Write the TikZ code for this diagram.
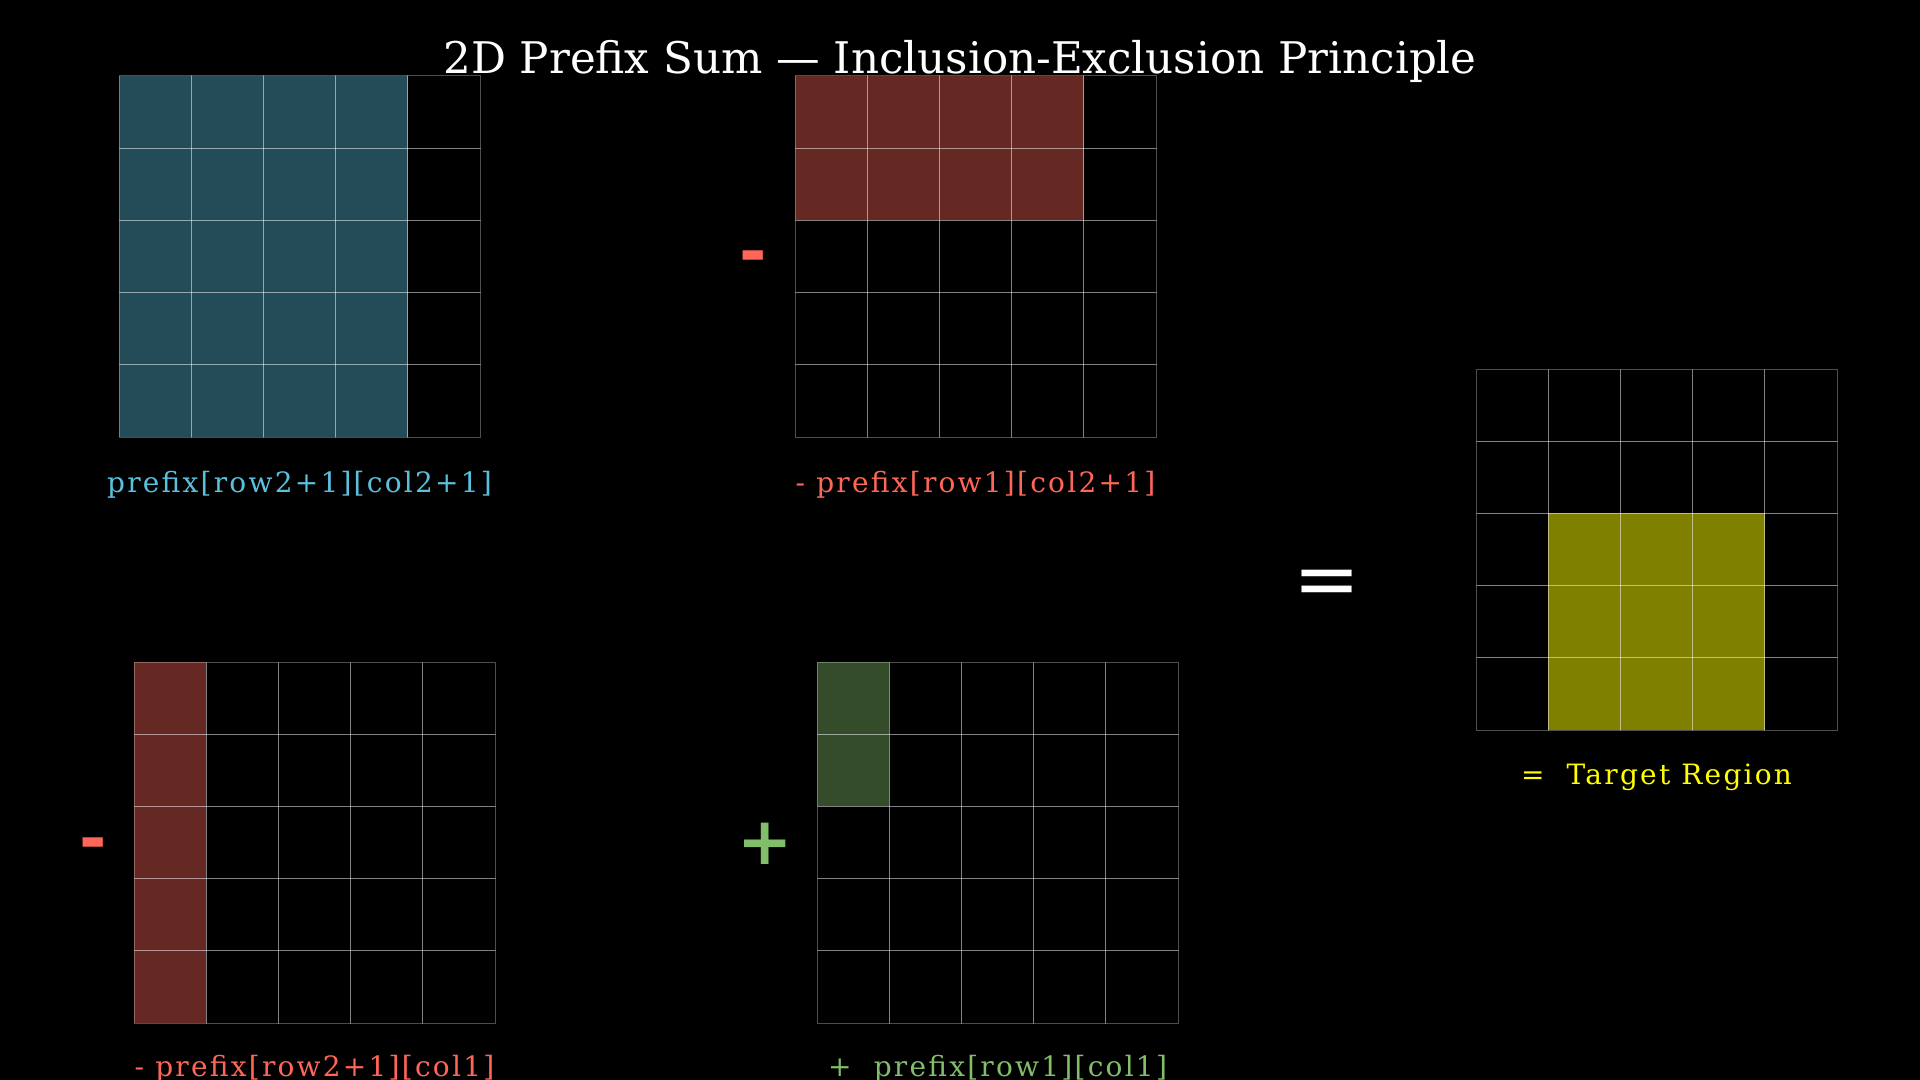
\documentclass[tikz,border=0pt]{standalone}
\usepackage{fontspec}
\setmainfont{DejaVu Serif}
\newfontfamily\sumfont[LetterSpace=8]{DejaVu Serif}
\newfontfamily\opfont{DejaVu Sans}
\usetikzlibrary{calc}

\definecolor{prefixblue}{HTML}{5BC0DE}
\definecolor{prefixred}{HTML}{FF6658}
\definecolor{prefixgreen}{HTML}{82BE69}
\definecolor{prefixyellow}{HTML}{FFFF00}

\tikzset{
	cell/.style={draw=white, draw opacity=0.3, line width=0.5pt},
	region/.style={fill=#1, fill opacity=0.4},
	title/.style={anchor=base, text=white, inner sep=0pt,
		font=\fontsize{21.8}{26}\selectfont},
	sumlabel/.style={anchor=base, text=#1, inner sep=0pt,
		font=\sumfont\fontsize{14}{17}\selectfont},
	operator/.style={text=#1, inner sep=0pt,
		font=\opfont\bfseries\fontsize{33}{40}\selectfont},
}

% 5x5 grid with its top left corner at (#1,#2)
\newcommand{\prefixgrid}[2]{
	\foreach \i in {0,...,4}
		\foreach \j in {0,...,4}
			\draw[cell] ({#1+\i*\cell},{#2+\j*\cell}) rectangle ++(\cell,\cell);
}

\begin{document}
\begin{tikzpicture}[x=0.5pt, y=-0.5pt]
	\def \cell {72.2}

	\useasboundingbox (0,0) rectangle (1920,1080);
	\fill[black] (0,0) rectangle (1920,1080);

	\node[title] (title) at (960,74)
		{2D Prefix Sum — Inclusion-Exclusion Principle};

	% prefix[row2+1][col2+1]
	\coordinate (gridA) at (119,76);
	\fill[region=prefixblue] (gridA) rectangle ++(4*\cell,5*\cell);
	\prefixgrid{119}{76}
	\node[sumlabel=prefixblue] (sumA) at ($(gridA)+(2.5*\cell,416)$)
		{prefix[row2+1][col2+1]};

	% - prefix[row1][col2+1]
	\coordinate (gridB) at (795,76);
	\fill[region=prefixred] (gridB) rectangle ++(4*\cell,2*\cell);
	\prefixgrid{795}{76}
	\node[sumlabel=prefixred] (sumB) at ($(gridB)+(2.5*\cell,416)$)
		{- prefix[row1][col2+1]};
	\node[operator=prefixred] (minusB) at (753,263) {-};

	% - prefix[row2+1][col1]
	\coordinate (gridC) at (134,662);
	\fill[region=prefixred] (gridC) rectangle ++(\cell,5*\cell);
	\prefixgrid{134}{662}
	\node[sumlabel=prefixred] (sumC) at ($(gridC)+(2.5*\cell,414)$)
		{- prefix[row2+1][col1]};
	\node[operator=prefixred] (minusC) at (93,850) {-};

	% + prefix[row1][col1]
	\coordinate (gridD) at (817,662);
	\fill[region=prefixgreen] (gridD) rectangle ++(\cell,2*\cell);
	\prefixgrid{817}{662}
	\node[sumlabel=prefixgreen] (sumD) at ($(gridD)+(2.5*\cell,414)$)
		{+\ \ prefix[row1][col1]};
	\node[operator=prefixgreen] (plusD) at (765,844) {+};

	% = target region
	\coordinate (gridE) at (1476,369);
	\fill[prefixyellow, fill opacity=0.5] ($(gridE)+(\cell,2*\cell)$)
		rectangle ++(3*\cell,3*\cell);
	\prefixgrid{1476}{369}
	\node[sumlabel=prefixyellow] (sumE) at ($(gridE)+(2.5*\cell,415)$)
		{=\ \ Target Region};
	\node[text=white, inner sep=0pt, font=\opfont\fontsize{40}{48}\selectfont]
		(equals) at (1327,588) {=};
\end{tikzpicture}
\end{document}
